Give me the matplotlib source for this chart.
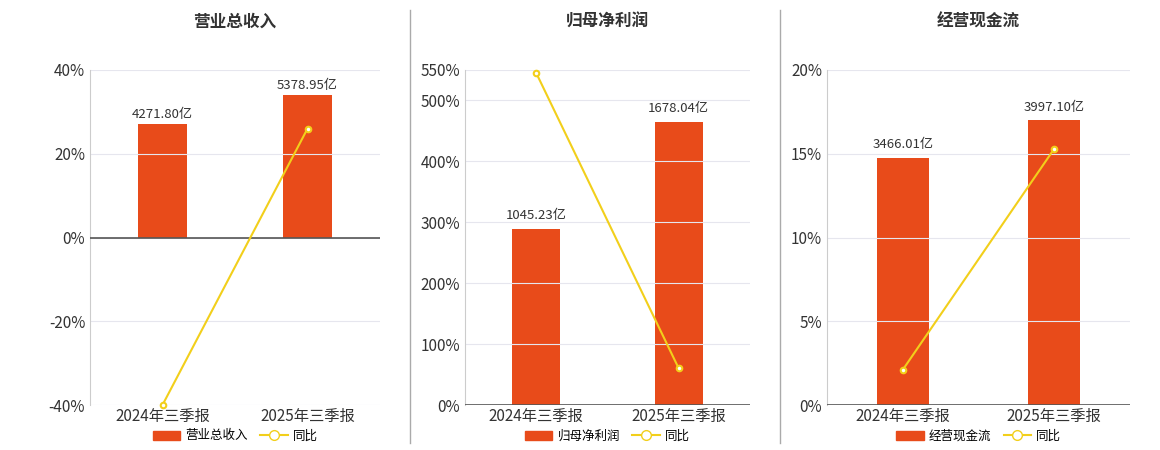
import matplotlib
matplotlib.use("Agg")
import matplotlib.pyplot as plt
from matplotlib.lines import Line2D
from matplotlib.patches import Patch

plt.rcParams['font.family'] = ['Noto Sans CJK SC', 'DejaVu Sans']

periods = ["2024年三季报", "2025年三季报"]
titles = ["营业总收入", "归母净利润", "经营现金流"]
values = [[4271.80, 5378.95], [1045.23, 1678.04], [3466.01, 3997.10]]
yoy = [[-40.0, 26.0], [545.0, 60.0], [2.1, 15.3]]

pct_lims = [(-40, 40), (0, 550), (0, 20)]
pct_ticks = [[-40, -20, 0, 20, 40], [0, 100, 200, 300, 400, 500, 550], [0, 5, 10, 15, 20]]
bar_top_pct = [34, 465, 17]   # where the taller bar reaches on the % axis

BAR = "#E84B1A"
LINE = "#F2CF1B"

fig = plt.figure(figsize=(11.6, 4.5), dpi=100)
boxes = [(90, 290), (465, 285), (827, 303)]

for i in range(3):
    x0, w = boxes[i]
    ax = fig.add_axes([x0 / 1160, 45 / 450, w / 1160, 335 / 450])
    lo, hi = pct_lims[i]
    ax.set_ylim(lo, hi)
    ax.set_xlim(-0.5, 1.5)
    ax.set_yticks(pct_ticks[i])
    ax.set_yticklabels([f"{t}%" for t in pct_ticks[i]], fontsize=11, color="#333333")
    ax.grid(axis="y", color="#e6e6ee", lw=0.8)
    ax.set_axisbelow(True)
    for s in ["top", "right"]:
        ax.spines[s].set_visible(False)
    ax.spines["left"].set_color("#cccccc")
    ax.spines["bottom"].set_visible(False)
    ax.axhline(0, color="#555555", lw=1.2, zorder=5)
    ax.set_xticks([0, 1])
    ax.set_xticklabels(periods, fontsize=11, color="#333333")
    ax.tick_params(axis="x", length=0, pad=2)
    ax.tick_params(axis="y", length=0)

    bx = ax.twinx()
    vmax = max(values[i])
    scale = vmax * (hi - lo) / bar_top_pct[i] if lo == 0 else vmax * hi / bar_top_pct[i]
    if lo == 0:
        bx.set_ylim(0, scale)
    else:
        bx.set_ylim(-scale, scale)
    bx.bar([0, 1], values[i], width=0.34, color=BAR, zorder=2)
    for j, v in enumerate(values[i]):
        bx.text(j, v + scale * 0.02, f"{v:.2f}亿", ha="center", va="bottom", fontsize=9.5, color="#333333")
    bx.axis("off")
    bx.set_zorder(1)
    ax.set_zorder(2)
    ax.patch.set_visible(False)
    ax.plot([0, 1], yoy[i], color=LINE, lw=1.5, marker="o", ms=4,
            mfc="white", mec=LINE, mew=1.5, zorder=6, clip_on=False)

    fig.text((x0 + w / 2) / 1160, 1 - 22 / 450, titles[i], ha="center", va="center",
             fontsize=12, fontweight="bold", color="#333333")
    handles = [Patch(color=BAR), Line2D([], [], color=LINE, marker="o", mfc="white", mec=LINE, lw=1.5, ms=7)]
    fig.legend(handles, [titles[i], "同比"], loc="center",
               bbox_to_anchor=((x0 + w / 2) / 1160, 1 - 436 / 450), ncol=2, frameon=False,
               fontsize=9, handlelength=2.2, columnspacing=1.0, handletextpad=0.4)

for xs in [410, 780]:
    fig.add_artist(Line2D([xs / 1160] * 2, [1 - 443 / 450, 1 - 10 / 450], color="#aaaaaa", lw=1))

fig.savefig("out.png", dpi=100)
